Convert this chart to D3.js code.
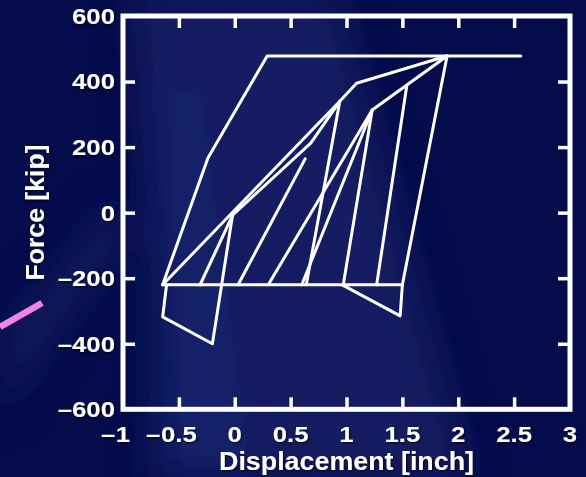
<!DOCTYPE html>
<html>
<head>
<meta charset="utf-8">
<script src="https://cdn.jsdelivr.net/npm/d3@7"></script>
<style>
  html, body { margin: 0; padding: 0; background: #050d4d; }
  svg { display: block; }
  text { font-family: "Liberation Sans", Arial, Helvetica, sans-serif; font-weight: bold; fill: #ffffff; }
</style>
</head>
<body>
<svg id="chart" width="586" height="477"></svg>
<script>
// Axis ticks
const xTicks = [-1, -0.5, 0, 0.5, 1, 1.5, 2, 2.5, 3];
const yTicks = [-600, -400, -200, 0, 200, 400, 600];
const xTitle = "Displacement [inch]";
const yTitle = "Force [kip]";

// Hysteresis branches, points are [displacement (inch), force (kip)]
const backbone  = [[-0.645, -220], [-0.24, 167], [0.29, 478], [2.56, 478]];
const slipLine  = [[-0.645, -220], [1.5, -220]];
const leftLoop  = [[-0.61, -220], [-0.645, -318], [-0.2, -400], [-0.02, -8]];
const rightLoop = [[0.97, -222], [1.48, -315], [1.5, -220], [1.9, 478]];
const reloadA   = [[-0.645, -220], [0.94, 340], [1.09, 395], [1.9, 478]];
const reloadB   = [[-0.31, -220], [-0.02, -8], [0.68, 212], [0.91, 325]];
const reloadC   = [[0.03, -220], [0.63, 164]];
const reloadD   = [[0.3, -220], [1.23, 313], [1.9, 478]];
const reloadE   = [[0.6, -220], [1.23, 313]];
const unload1   = [[0.94, 340], [0.64, -220]];
const unload2   = [[1.23, 313], [0.97, -222]];
const unload3   = [[1.54, 389], [1.27, -220]];

const branches = [backbone, slipLine, leftLoop, rightLoop, reloadA, reloadB,
                  reloadC, reloadD, reloadE, unload1, unload2, unload3];

const W = 586, H = 477;
const plot = { left: 123, right: 570, top: 16, bottom: 409.3 };

const svg = d3.select("#chart");
const defs = svg.append("defs");

// soft backdrop
const blur = defs.append("filter").attr("id", "soft").attr("x", "-50%").attr("y", "-50%")
  .attr("width", "200%").attr("height", "200%");
blur.append("feGaussianBlur").attr("stdDeviation", 18);

const shadow = defs.append("filter").attr("id", "shadow").attr("x", "-20%").attr("y", "-20%")
  .attr("width", "140%").attr("height", "140%");
shadow.append("feDropShadow").attr("dx", 1).attr("dy", 1).attr("stdDeviation", 0.8)
  .attr("flood-color", "#000").attr("flood-opacity", 0.75);

svg.append("rect").attr("width", W).attr("height", H).attr("fill", "#050c4b");

const bg = svg.append("g").attr("filter", "url(#soft)");
bg.append("polygon")
  .attr("points", "130,0 340,0 470,477 180,477")
  .attr("fill", "#17236a").attr("opacity", 0.75);
bg.append("polygon")
  .attr("points", "160,90 200,90 250,477 150,477")
  .attr("fill", "#1c2a72").attr("opacity", 0.5);
bg.append("polygon")
  .attr("points", "0,330 110,200 140,230 0,420")
  .attr("fill", "#121d62").attr("opacity", 0.6);

// pink accent stroke at the left edge
svg.append("line")
  .attr("x1", 0).attr("y1", 327).attr("x2", 42).attr("y2", 303)
  .attr("stroke", "#f283e3").attr("stroke-width", 6.5);

const x = d3.scaleLinear().domain([-1, 3]).range([plot.left, plot.right]);
const y = d3.scaleLinear().domain([-600, 600]).range([plot.bottom, plot.top]);

// inward ticks on all four sides
const innerX = xTicks.slice(1, -1);
const innerY = yTicks.slice(1, -1);
const tickLen = 12;

function styleAxis(g) {
  g.select(".domain").remove();
  g.selectAll(".tick line").attr("stroke", "#fff").attr("stroke-width", 3.5);
  g.selectAll(".tick text").remove();
}
svg.append("g").attr("transform", `translate(0,${plot.bottom})`)
  .call(d3.axisBottom(x).tickValues(innerX).tickSize(-tickLen)).call(styleAxis);
svg.append("g").attr("transform", `translate(0,${plot.top})`)
  .call(d3.axisTop(x).tickValues(innerX).tickSize(-tickLen)).call(styleAxis);
svg.append("g").attr("transform", `translate(${plot.left},0)`)
  .call(d3.axisLeft(y).tickValues(innerY).tickSize(-tickLen)).call(styleAxis);
svg.append("g").attr("transform", `translate(${plot.right},0)`)
  .call(d3.axisRight(y).tickValues(innerY).tickSize(-tickLen)).call(styleAxis);

// frame
svg.append("rect")
  .attr("x", plot.left).attr("y", plot.top)
  .attr("width", plot.right - plot.left).attr("height", plot.bottom - plot.top)
  .attr("fill", "none").attr("stroke", "#fff").attr("stroke-width", 5);

// hysteresis curves
const line = d3.line().x(d => x(d[0])).y(d => y(d[1]));
svg.append("g").selectAll("path").data(branches).join("path")
  .attr("d", line)
  .attr("fill", "none").attr("stroke", "#fff").attr("stroke-width", 3)
  .attr("stroke-linejoin", "round").attr("stroke-linecap", "round");

// tick labels
const sx = 1.17, fs = 22;
const labels = svg.append("g").attr("filter", "url(#shadow)");

xTicks.forEach(v => {
  const g = labels.append("g")
    .attr("transform", `translate(${x(v)},441.8) scale(${sx},1)`);
  const t = g.append("text").attr("text-anchor", "middle").attr("font-size", fs)
    .text(String(Math.abs(v)));
  if (v < 0) {
    const w = t.node().getComputedTextLength();
    g.append("text").attr("text-anchor", "end").attr("font-size", fs)
      .attr("x", -w / 2 - 0.5).text("\u2013");
  }
});

yTicks.forEach(v => {
  labels.append("g")
    .attr("transform", `translate(115,${y(v) + 7.9}) scale(${sx},1)`)
    .append("text").attr("text-anchor", "end").attr("font-size", fs)
    .text((v < 0 ? "\u2013" : "") + Math.abs(v));
});

// axis titles
labels.append("text")
  .attr("x", 346.5).attr("y", 469.5)
  .attr("text-anchor", "middle").attr("font-size", 25)
  .attr("textLength", 255).attr("lengthAdjust", "spacingAndGlyphs")
  .text(xTitle);

labels.append("text")
  .attr("transform", "translate(44,212.5) rotate(-90)")
  .attr("text-anchor", "middle").attr("font-size", 25)
  .attr("textLength", 136).attr("lengthAdjust", "spacingAndGlyphs")
  .text(yTitle);
</script>
</body>
</html>
